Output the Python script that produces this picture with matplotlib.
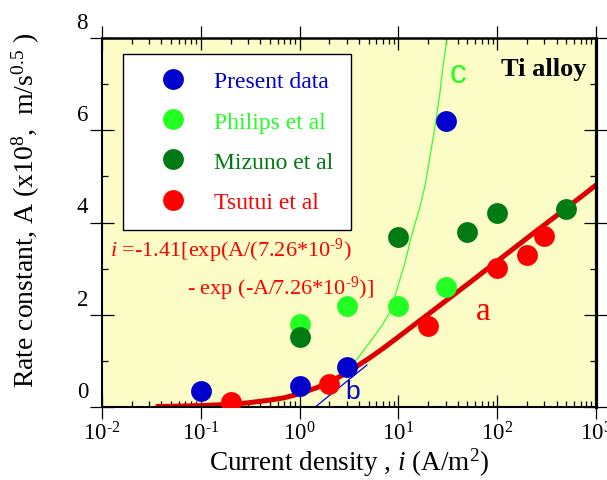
import numpy as np
import matplotlib.pyplot as plt
import matplotlib.transforms as mtransforms
from matplotlib.ticker import LogLocator, MultipleLocator, NullFormatter

plt.rcParams['font.family'] = ['Liberation Serif', 'DejaVu Serif']
plt.rcParams['mathtext.fontset'] = 'custom'
plt.rcParams['mathtext.rm'] = 'Liberation Serif'
plt.rcParams['mathtext.it'] = 'Liberation Serif:italic'
plt.rcParams['mathtext.bf'] = 'Liberation Serif:bold'

# measured data (current density i, rate constant A)
present_i = [0.1, 1, 3, 30]
present_A = [0.35, 0.45, 0.86, 6.2]
philips_i = [1, 3, 10, 30]
philips_A = [1.8, 2.19, 2.19, 2.6]
mizuno_i = [1, 10, 50, 100, 500]
mizuno_A = [1.52, 3.69, 3.79, 4.21, 4.29]
tsutui_i = [0.2, 2, 20, 100, 200, 300]
tsutui_A = [0.11, 0.5, 1.76, 3.01, 3.3, 3.71]

# curves
curve_a_i = [0.037, 0.1, 0.2, 0.3, 0.5, 0.7, 1, 1.5, 2, 3, 5, 7, 10, 20, 50, 100, 200, 500, 1000]
curve_a_A = [0.01, 0.03, 0.06, 0.09, 0.15, 0.2, 0.29, 0.42, 0.54, 0.74, 1.05, 1.27, 1.52,
             2.01, 2.66, 3.16, 3.66, 4.31, 4.81]
curve_c_i = [3.2, 3.81, 5.16, 6.98, 8.03, 9.24, 10.4, 11.7, 13.1, 14.7, 15.8,
             18.6, 20.9, 23.5, 26.4, 28.3, 31.0, 32.5]
curve_c_A = [0.88, 1.04, 1.41, 1.8, 2.02, 2.41, 2.78, 3.14, 3.58, 3.97, 4.18,
             4.79, 5.44, 6.09, 6.83, 7.39, 7.98, 8.3]
line_b_i = [1.44, 4.8]
line_b_A = [0.0, 0.91]

xticks = [1e-2, 1e-1, 1e0, 1e1, 1e2, 1e3]
xtick_labels = [r'$10^{\text{-}2}$', r'$10^{\text{-}1}$', '$10^{0}$', '$10^{1}$',
                '$10^{2}$', '$10^{3}$']
yticks = [0, 2, 4, 6, 8]

series = [
    (present_i, present_A, '#0000cc', 'Present data'),
    (philips_i, philips_A, '#22ff22', 'Philips et al'),
    (mizuno_i, mizuno_A, '#007a12', 'Mizuno et al'),
    (tsutui_i, tsutui_A, '#ff0000', 'Tsutui et al'),
]

fig = plt.figure(figsize=(6.07, 4.81), dpi=100)
ax = fig.add_axes([102/607, 73/481, 494/607, 369/481])
ax.set_facecolor('#fcfcc6')

ax.plot(curve_a_i, curve_a_A, color='#dd0000', lw=3.6, zorder=2)
ax.plot(curve_c_i, curve_c_A, color='#33ff33', lw=0.9, zorder=2)
ax.plot(line_b_i, line_b_A, color='#0000ee', lw=0.9, zorder=2)

for xs, ys, col, lab in series:
    ax.plot(xs, ys, 'o', ms=15, mec='none', color=col, label=lab, zorder=3)

ax.set_xscale('log')
ax.set_xlim(1e-2, 1e3)
ax.set_ylim(0, 8)
ax.set_xticks(xticks)
ax.set_xticklabels(xtick_labels)
ax.xaxis.set_minor_locator(LogLocator(base=10, subs=np.arange(2, 10)))
ax.xaxis.set_minor_formatter(NullFormatter())
ax.set_yticks(yticks)
ax.yaxis.set_minor_locator(MultipleLocator(1))

ax.tick_params(which='major', direction='inout', length=17, width=0.9,
               top=True, right=True, labelsize=16.5, pad=1.5)
ax.tick_params(which='minor', direction='in', length=4.5, width=0.9, top=True, right=True)

for side, w in [('left', 1.5), ('bottom', 1.5), ('top', 1.8), ('right', 2.3)]:
    ax.spines[side].set_linewidth(w)

# y tick labels sit above their ticks in the original
offset = mtransforms.ScaledTranslation(0, 0.18, fig.dpi_scale_trans)
for tick in ax.yaxis.get_major_ticks():
    tick.label1.set_transform(tick.label1.get_transform() + offset)

ax.set_xlabel('Current density , $i$ (A/m$^2$)', fontsize=19.5, labelpad=1)
ax.set_ylabel('Rate constant, A (x10$^8$,  m/s$^{0.5}$ )', fontsize=20)
ax.yaxis.set_label_coords(-0.122, 0.537)

leg = ax.legend(loc='upper left', bbox_to_anchor=(0.0425, 0.957), borderaxespad=0,
                fontsize=17, fancybox=False, edgecolor='black', framealpha=1,
                handlelength=2.8, handletextpad=0.35, labelspacing=0.79,
                borderpad=0.72, numpoints=1)
leg.get_frame().set_linewidth(1.0)
for txt, (_, _, col, _) in zip(leg.get_texts(), series):
    txt.set_color(col)

ax.text(0.016, 0.409, r'$i$ =-1.41[exp(A/(7.26*10$^{\text{-}9}$)', color='#ff0000',
        fontsize=16, transform=ax.transAxes, va='baseline')
ax.text(0.172, 0.306, r'- exp (-A/7.26*10$^{\text{-}9}$)]', color='#ff0000',
        fontsize=16, transform=ax.transAxes, va='baseline')
ax.text(72, 2.08, 'a', color='#ff0000', fontsize=24, ha='center', va='center')
ax.text(3.47, 0.35, 'b', color='#0000cc', fontsize=19, ha='center', va='center',
        family='Liberation Sans')
ax.text(40, 7.24, 'c', color='#22ff22', fontsize=24, ha='center', va='center',
        family='Liberation Sans')
ax.text(0.98, 0.916, 'Ti alloy', fontsize=19, fontweight='bold', ha='right',
        va='center', transform=ax.transAxes)

fig.savefig('out.png', dpi=100)
